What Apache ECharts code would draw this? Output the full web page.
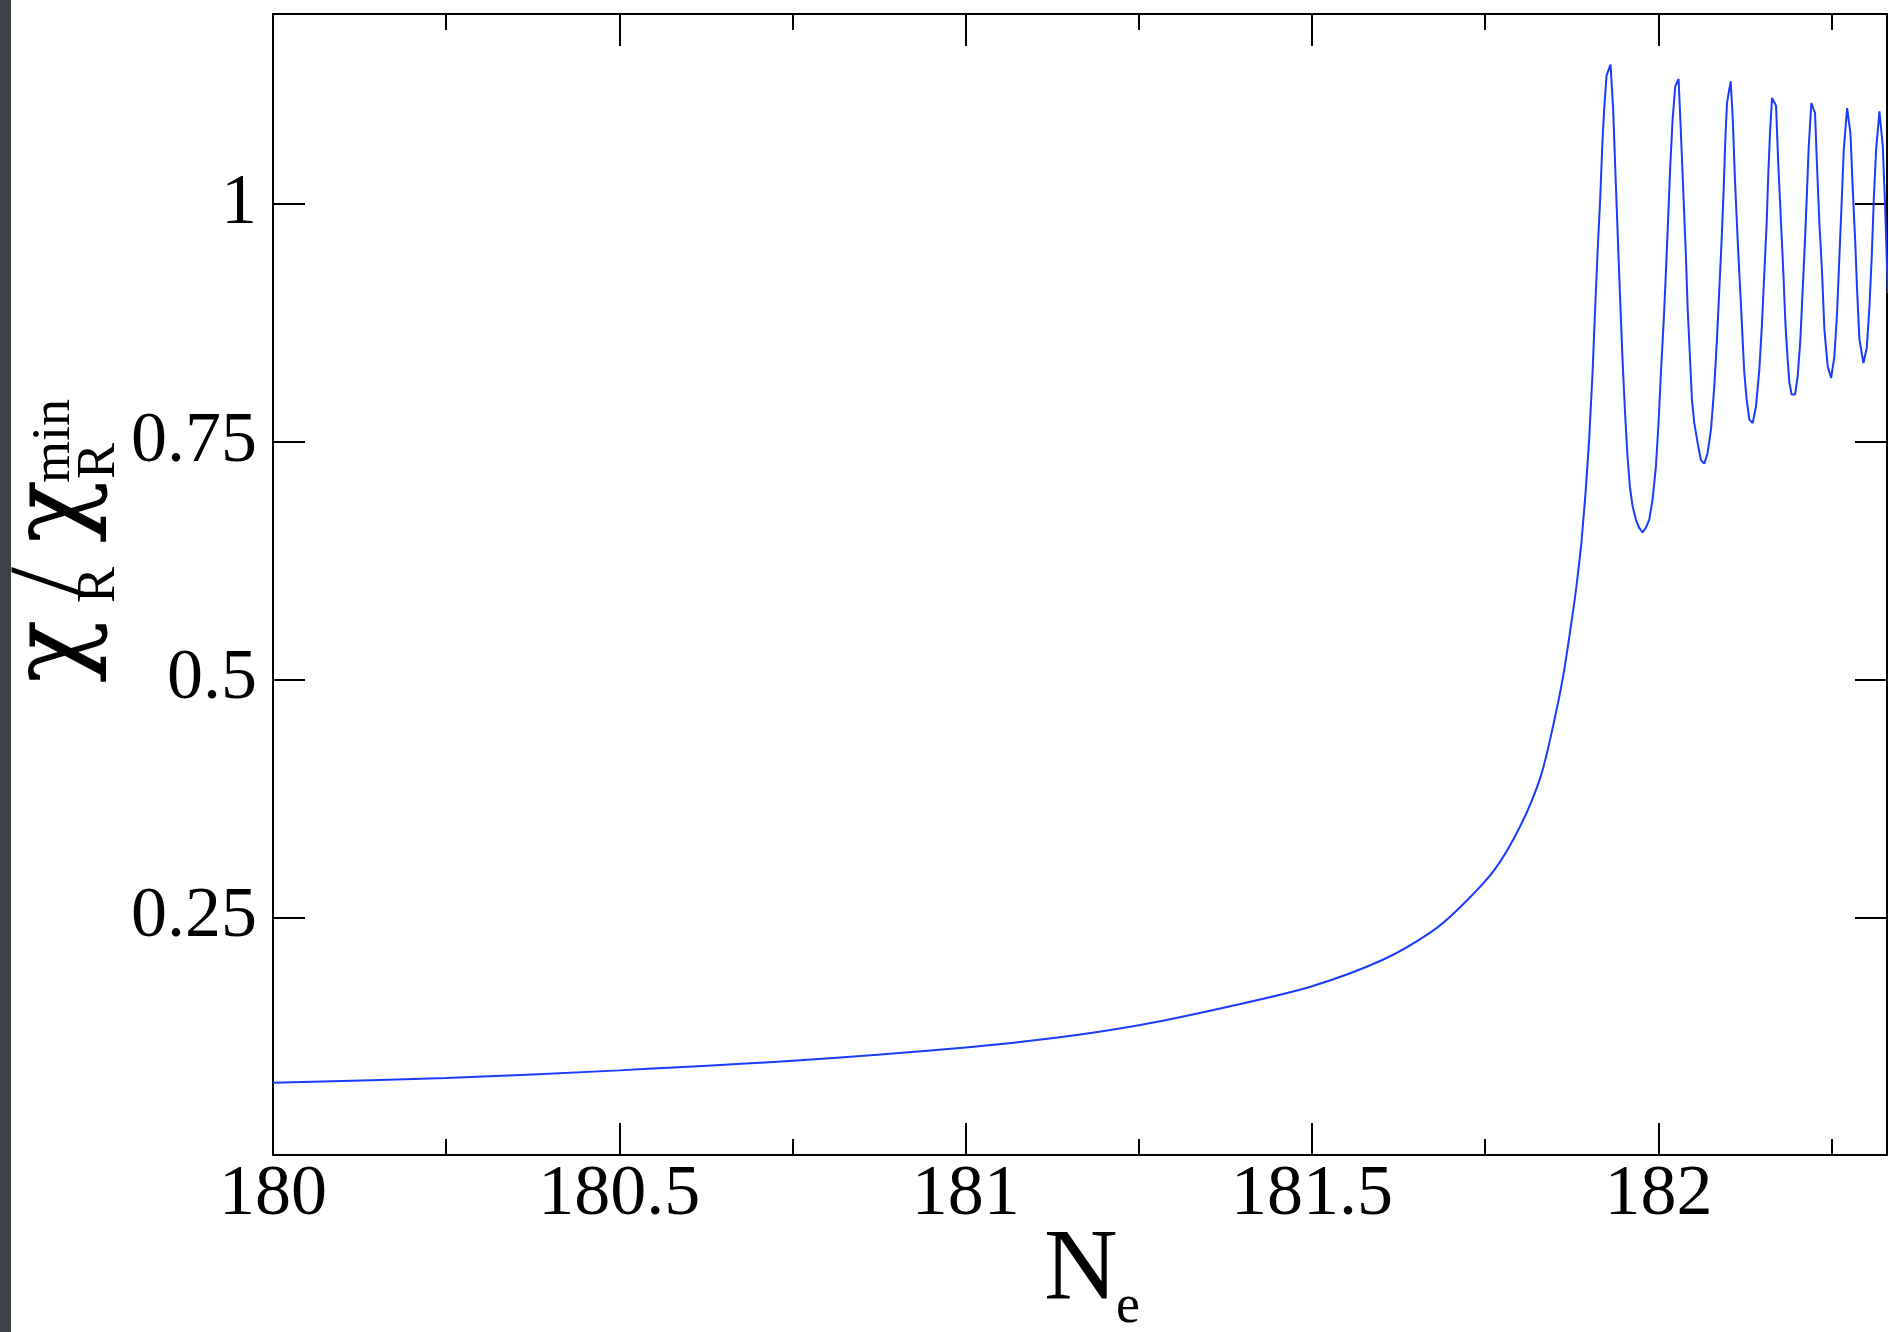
<!DOCTYPE html>
<html>
<head>
<meta charset="utf-8">
<title>chi_R / chi_R^min vs N_e</title>
<script src="https://cdn.jsdelivr.net/npm/echarts@6/dist/echarts.min.js"></script>
<style>
  html, body { margin: 0; padding: 0; background: #fff; }
  #chart { width: 1889px; height: 1332px; }
</style>
</head>
<body>
<div id="chart"></div>
<script>
// smooth rise
var neSmooth = [180.0, 180.25, 180.5, 180.75, 181.0, 181.127, 181.25, 181.382, 181.5,
    181.603, 181.67, 181.71, 181.763, 181.801, 181.83, 181.849, 181.862, 181.874, 181.882, 181.889];
var ratioSmooth = [0.076, 0.081, 0.089, 0.099, 0.113, 0.123, 0.1365, 0.1565, 0.1775,
    0.2056, 0.2336, 0.258, 0.2997, 0.3466, 0.398, 0.4546, 0.5015, 0.5578, 0.6, 0.645];

// oscillating part (vertices of the sampled curve)
var neOsc = [181.889, 181.8952, 181.9, 181.9049, 181.9082, 181.9121, 181.9159, 181.9193, 181.9217, 181.9251,
    181.9309, 181.9347, 181.9376, 181.941, 181.9444, 181.9482, 181.9521, 181.9554, 181.9588, 181.9627,
    181.9675, 181.9723, 181.9771, 181.9819, 181.9868, 181.9916, 181.9964, 182.0002, 182.0036, 182.0075,
    182.0108, 182.0142, 182.0171, 182.0205, 182.0243, 182.0291, 182.0325, 182.0364, 182.0397, 182.0421,
    182.0455, 182.0484, 182.0518, 182.0566, 182.0614, 182.0662, 182.071, 182.0759, 182.0807, 182.0845,
    182.0879, 182.0913, 182.0942, 182.0966, 182.099, 182.1043, 182.1072, 182.1105, 182.1144, 182.1183,
    182.1216, 182.124, 182.1274, 182.1313, 182.1361, 182.1409, 182.1457, 182.1496, 182.1529, 182.1563,
    182.1587, 182.1611, 182.164, 182.1698, 182.1732, 182.177, 182.1804, 182.1833, 182.1866, 182.1891,
    182.1924, 182.1972, 182.2011, 182.2049, 182.2083, 182.2117, 182.2146, 182.217, 182.2208, 182.2261,
    182.229, 182.2324, 182.2363, 182.2396, 182.2444, 182.2493, 182.2541, 182.2579, 182.2613, 182.2647,
    182.2676, 182.2724, 182.2772, 182.2806, 182.284, 182.2868, 182.2902, 182.296, 182.3008, 182.3047,
    182.308, 182.3109, 182.3143, 182.3191, 182.3239, 182.3273, 182.3312];
var ratioOsc = [0.645, 0.7, 0.7524, 0.8225, 0.8821, 0.9487, 1.0047, 1.0678, 1.0994, 1.1351,
    1.1467, 1.0994, 1.0398, 0.9732, 0.9066, 0.8365, 0.7769, 0.7349, 0.7033, 0.6823,
    0.6683, 0.6595, 0.6549, 0.6595, 0.6683, 0.6893, 0.7243, 0.7699, 0.8225, 0.8751,
    0.9276, 0.9872, 1.0398, 1.0889, 1.1239, 1.1316, 1.0748, 1.0047, 0.9452, 0.8926,
    0.84, 0.7944, 0.7699, 0.7489, 0.7306, 0.7271, 0.7383, 0.7629, 0.8084, 0.8575,
    0.9101, 0.9627, 1.0153, 1.0678, 1.1064, 1.1292, 1.0924, 1.0258, 0.9627, 0.9066,
    0.8575, 0.8225, 0.7944, 0.7734, 0.7699, 0.7874, 0.826, 0.8751, 0.9276, 0.9802,
    1.0328, 1.0748, 1.1116, 1.1036, 1.0398, 0.9802, 0.9276, 0.8751, 0.8365, 0.812,
    0.7997, 0.7997, 0.819, 0.8575, 0.9101, 0.9627, 1.0153, 1.0608, 1.1064, 1.0959,
    1.0398, 0.9802, 0.9276, 0.868, 0.8295, 0.8172, 0.84, 0.8856, 0.9452, 1.0047,
    1.0573, 1.1011, 1.0748, 1.0153, 0.9627, 0.9101, 0.8575, 0.833, 0.8488, 0.8926,
    0.9452, 1.0047, 1.0573, 1.0976, 1.0608, 0.9977, 0.9066];

var xMin = 180, xMax = 182.33;
var yMin = 0, yMax = 1.2;

var smoothData = [], oscData = [];
for (var i = 0; i < neSmooth.length; i++) smoothData.push([neSmooth[i], ratioSmooth[i]]);
for (var j = 0; j < neOsc.length; j++) oscData.push([neOsc[j], ratioOsc[j]]);

var serif = "'Liberation Serif', 'DejaVu Serif', serif";
var greek = "'DejaVu Serif', serif";
var black = '#000';
var blue = '#1a3cff';

function xAx(pos, interval, tickLen, withLine, withLabel) {
    return {
        type: 'value', position: pos, min: xMin, max: xMax, interval: interval,
        axisLine: { show: withLine, onZero: false, lineStyle: { color: black, width: 2 } },
        axisTick: { show: true, inside: true, length: tickLen, lineStyle: { color: black, width: 2 } },
        axisLabel: {
            show: withLabel, fontFamily: serif, fontSize: 72, color: black, margin: 4,
            showMaxLabel: false
        },
        splitLine: { show: false }
    };
}

function yAx(pos, withLabel) {
    return {
        type: 'value', position: pos, min: yMin, max: yMax, interval: 0.25,
        axisLine: { show: true, onZero: false, lineStyle: { color: black, width: 2 } },
        axisTick: { show: true, inside: true, length: 32, lineStyle: { color: black, width: 2 } },
        axisLabel: {
            show: withLabel, fontFamily: serif, fontSize: 72, color: black, margin: 16,
            showMinLabel: false, showMaxLabel: false
        },
        splitLine: { show: false }
    };
}

function rot(x, y, txt, size, fam) {
    return {
        type: 'text', x: x, y: y, rotation: Math.PI / 2,
        style: { text: txt, font: size + 'px ' + fam, fill: black, align: 'left', verticalAlign: 'middle' }
    };
}

var myChart = echarts.init(document.getElementById('chart'));

var option = {
    backgroundColor: '#fff',
    animation: false,
    grid: { left: 273, right: 2, top: 14, bottom: 177 },
    xAxis: [
        xAx('bottom', 0.5, 32, true, true),
        xAx('bottom', 0.25, 16, false, false),
        xAx('top', 0.5, 32, true, false),
        xAx('top', 0.25, 16, false, false)
    ],
    yAxis: [
        yAx('left', true),
        yAx('right', false)
    ],
    series: [{
        type: 'line',
        xAxisIndex: 0,
        yAxisIndex: 0,
        data: smoothData,
        smooth: 0.3,
        showSymbol: false,
        symbol: 'none',
        lineStyle: { color: blue, width: 2 }
    }, {
        type: 'line',
        xAxisIndex: 0,
        yAxisIndex: 0,
        data: oscData,
        showSymbol: false,
        symbol: 'none',
        lineStyle: { color: blue, width: 2 }
    }],
    graphic: [
        // dark strip on the far left
        { type: 'rect', left: 0, top: 0, shape: { width: 11, height: 1332 }, style: { fill: '#3e4149' } },
        // x axis title N_e
        { type: 'text', x: 1044, y: 1272, style: { text: 'N', font: '102px ' + serif, fill: black, align: 'left', verticalAlign: 'middle' } },
        { type: 'text', x: 1116, y: 1308, style: { text: 'e', font: '54px ' + serif, fill: black, align: 'left', verticalAlign: 'middle' } },
        // y axis title chi_R / chi_R^min, reading bottom to top
        rot(57, 683, '\u03c7', 104, greek),
        rot(100, 603, 'R', 54, serif),
        rot(55, 597, '/', 108, serif),
        rot(57, 543, '\u03c7', 104, greek),
        rot(100, 479, 'R', 54, serif),
        rot(55, 483, 'min', 54, serif)
    ]
};

if (option && typeof option === "object") {
    myChart.setOption(option, true);
}
</script>
</body>
</html>
